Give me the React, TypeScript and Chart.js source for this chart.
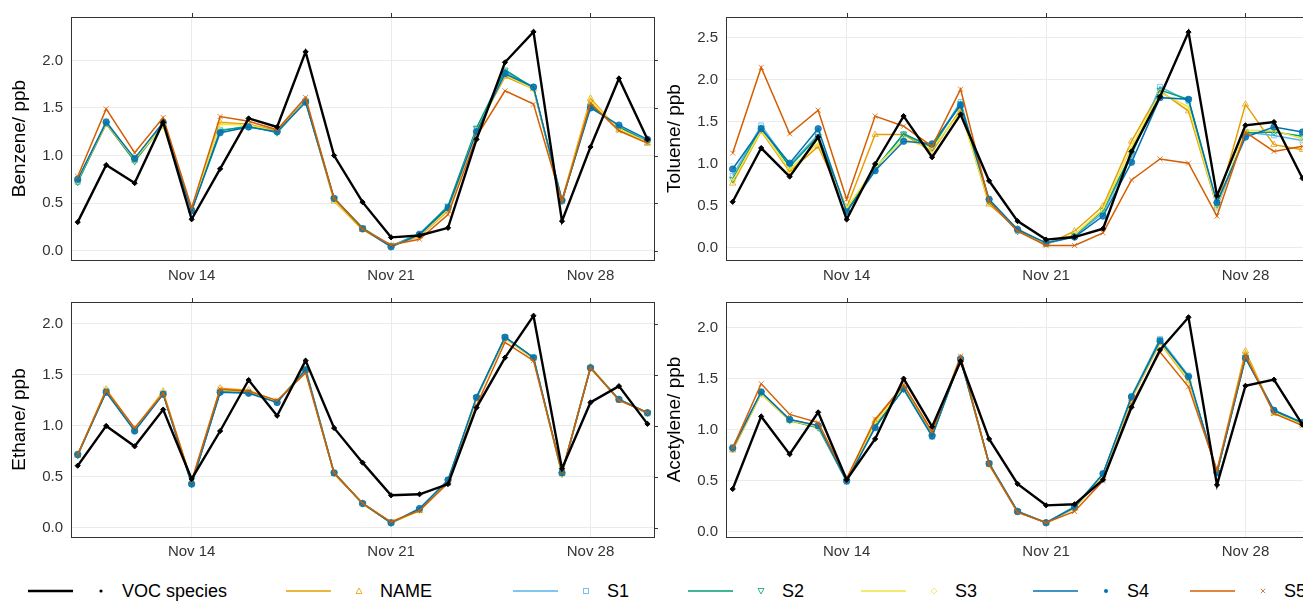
import React, { useEffect, useRef } from "react";
import { Chart, registerables } from "chart.js";

Chart.register(...registerables);

// Sampling days (November)
const days = [10, 11, 12, 13, 14, 15, 16, 17, 18, 19, 20, 21, 22, 23, 24, 25, 26, 27, 28, 29, 30];
const xTickDays = [14, 21, 28];
const xTickLabels = ["Nov 14", "Nov 21", "Nov 28"];

const seriesNames = ["VOC species", "NAME", "S1", "S2", "S3", "S4", "S5"];
const seriesColors = ["#000000", "#E69F00", "#56B4E9", "#009E73", "#F0E442", "#0072B2", "#D55E00"];

// Benzene
const benzeneVOC = [0.3, 0.9, 0.71, 1.35, 0.33, 0.86, 1.39, 1.3, 2.09, 1.0, 0.51, 0.14, 0.16, 0.24, 1.17, 1.98, 2.3, 0.31, 1.09, 1.81, 1.17];
const benzeneNAME = [0.73, 1.33, 0.95, 1.32, 0.43, 1.35, 1.33, 1.26, 1.58, 0.52, 0.22, 0.05, 0.15, 0.42, 1.27, 1.83, 1.7, 0.53, 1.6, 1.27, 1.13];
const benzeneS1 = [0.72, 1.36, 0.95, 1.33, 0.42, 1.27, 1.3, 1.25, 1.58, 0.54, 0.23, 0.05, 0.18, 0.46, 1.28, 1.88, 1.72, 0.52, 1.53, 1.3, 1.16];
const benzeneS2 = [0.72, 1.34, 0.94, 1.32, 0.43, 1.26, 1.31, 1.24, 1.57, 0.55, 0.24, 0.05, 0.17, 0.47, 1.29, 1.9, 1.71, 0.52, 1.52, 1.3, 1.14];
const benzeneS3 = [0.74, 1.34, 0.96, 1.31, 0.44, 1.33, 1.32, 1.25, 1.57, 0.53, 0.22, 0.05, 0.16, 0.43, 1.26, 1.85, 1.7, 0.53, 1.58, 1.28, 1.14];
const benzeneS4 = [0.75, 1.35, 0.97, 1.35, 0.42, 1.24, 1.3, 1.25, 1.56, 0.55, 0.23, 0.04, 0.17, 0.45, 1.25, 1.86, 1.72, 0.53, 1.5, 1.32, 1.17];
const benzeneS5 = [0.78, 1.49, 1.03, 1.4, 0.45, 1.41, 1.36, 1.27, 1.61, 0.55, 0.23, 0.06, 0.12, 0.38, 1.2, 1.68, 1.54, 0.52, 1.55, 1.26, 1.13];

// Toluene
const tolueneVOC = [0.55, 1.19, 0.85, 1.32, 0.34, 1.0, 1.57, 1.08, 1.59, 0.8, 0.32, 0.1, 0.13, 0.23, 1.15, 1.8, 2.57, 0.62, 1.46, 1.5, 0.83];
const tolueneNAME = [0.77, 1.39, 0.91, 1.21, 0.48, 1.35, 1.35, 1.15, 1.65, 0.52, 0.23, 0.04, 0.2, 0.5, 1.27, 1.87, 1.63, 0.5, 1.71, 1.23, 1.17];
const tolueneS1 = [0.86, 1.46, 0.99, 1.35, 0.46, 0.95, 1.35, 1.21, 1.74, 0.57, 0.21, 0.05, 0.14, 0.42, 1.1, 1.92, 1.75, 0.48, 1.38, 1.34, 1.28];
const tolueneS2 = [0.82, 1.43, 0.97, 1.33, 0.45, 0.94, 1.36, 1.2, 1.72, 0.56, 0.2, 0.06, 0.15, 0.45, 1.12, 1.88, 1.77, 0.52, 1.37, 1.38, 1.33];
const tolueneS3 = [0.8, 1.4, 0.93, 1.25, 0.47, 0.96, 1.3, 1.18, 1.62, 0.54, 0.22, 0.05, 0.16, 0.46, 1.2, 1.85, 1.68, 0.5, 1.4, 1.4, 1.3];
const tolueneS4 = [0.94, 1.42, 1.01, 1.42, 0.43, 0.92, 1.27, 1.24, 1.7, 0.58, 0.22, 0.06, 0.13, 0.38, 1.02, 1.79, 1.77, 0.54, 1.32, 1.44, 1.38];
const tolueneS5 = [1.13, 2.15, 1.36, 1.64, 0.58, 1.57, 1.45, 1.21, 1.89, 0.55, 0.2, 0.03, 0.03, 0.18, 0.81, 1.06, 1.01, 0.38, 1.38, 1.15, 1.21];

// Ethane
const ethaneVOC = [0.61, 1.0, 0.8, 1.16, 0.48, 0.95, 1.45, 1.1, 1.64, 0.98, 0.64, 0.32, 0.33, 0.43, 1.18, 1.67, 2.08, 0.58, 1.23, 1.39, 1.02];
const ethaneNAME = [0.71, 1.36, 0.97, 1.34, 0.45, 1.37, 1.35, 1.24, 1.54, 0.53, 0.24, 0.05, 0.17, 0.45, 1.27, 1.86, 1.66, 0.53, 1.58, 1.26, 1.13];
const ethaneS1 = [0.72, 1.34, 0.96, 1.32, 0.43, 1.34, 1.33, 1.23, 1.56, 0.54, 0.24, 0.05, 0.18, 0.47, 1.28, 1.87, 1.67, 0.54, 1.57, 1.26, 1.12];
const ethaneS2 = [0.71, 1.34, 0.96, 1.32, 0.43, 1.33, 1.33, 1.24, 1.55, 0.54, 0.24, 0.05, 0.18, 0.46, 1.28, 1.87, 1.67, 0.53, 1.57, 1.26, 1.13];
const ethaneS3 = [0.72, 1.35, 0.97, 1.33, 0.44, 1.35, 1.34, 1.24, 1.55, 0.54, 0.24, 0.05, 0.17, 0.46, 1.27, 1.86, 1.66, 0.53, 1.58, 1.26, 1.13];
const ethaneS4 = [0.72, 1.33, 0.95, 1.31, 0.43, 1.33, 1.32, 1.23, 1.55, 0.54, 0.24, 0.05, 0.19, 0.47, 1.28, 1.87, 1.67, 0.54, 1.57, 1.26, 1.13];
const ethaneS5 = [0.72, 1.35, 0.98, 1.32, 0.46, 1.36, 1.34, 1.25, 1.52, 0.54, 0.24, 0.06, 0.17, 0.44, 1.2, 1.82, 1.64, 0.55, 1.57, 1.25, 1.13];

// Acetylene
const acetyleneVOC = [0.42, 1.13, 0.76, 1.17, 0.51, 0.91, 1.5, 1.03, 1.67, 0.91, 0.47, 0.26, 0.27, 0.51, 1.22, 1.78, 2.1, 0.46, 1.43, 1.49, 1.05];
const acetyleneNAME = [0.8, 1.35, 1.09, 1.03, 0.52, 1.09, 1.43, 0.96, 1.7, 0.66, 0.2, 0.09, 0.23, 0.55, 1.3, 1.85, 1.48, 0.6, 1.77, 1.16, 1.05];
const acetyleneS1 = [0.83, 1.37, 1.1, 1.04, 0.49, 1.03, 1.4, 0.93, 1.7, 0.67, 0.2, 0.09, 0.25, 0.57, 1.33, 1.89, 1.53, 0.58, 1.71, 1.19, 1.07];
const acetyleneS2 = [0.81, 1.36, 1.09, 1.02, 0.5, 1.04, 1.4, 0.94, 1.69, 0.67, 0.2, 0.09, 0.24, 0.56, 1.32, 1.88, 1.51, 0.58, 1.71, 1.18, 1.06];
const acetyleneS3 = [0.81, 1.35, 1.09, 1.03, 0.51, 1.06, 1.41, 0.95, 1.69, 0.66, 0.2, 0.09, 0.23, 0.55, 1.31, 1.86, 1.49, 0.59, 1.74, 1.17, 1.05];
const acetyleneS4 = [0.82, 1.37, 1.1, 1.04, 0.5, 1.02, 1.4, 0.94, 1.69, 0.67, 0.2, 0.09, 0.24, 0.57, 1.32, 1.87, 1.52, 0.58, 1.7, 1.19, 1.07];
const acetyleneS5 = [0.82, 1.45, 1.15, 1.07, 0.52, 1.1, 1.44, 0.98, 1.72, 0.66, 0.19, 0.09, 0.2, 0.5, 1.25, 1.76, 1.42, 0.6, 1.73, 1.16, 1.04];

const ticksTo2 = [0, 0.5, 1.0, 1.5, 2.0];
const ticksTo25 = [0, 0.5, 1.0, 1.5, 2.0, 2.5];

const FONT = "'Liberation Sans', Arial, Helvetica, sans-serif";

type PanelSpec = {
  title: string;
  series: number[][];
  yMin: number;
  yMax: number;
  yTicks: number[];
  left: number;
  top: number;
  padTop: number;
  height: number;
  labelPad: number;
};

// Marker shapes per series: [pointStyle, rotation, filled, radius]
const markerStyles: [string, number, boolean, number][] = [
  ["rectRot", 0, true, 2.6],
  ["triangle", 0, false, 3.6],
  ["rect", 0, false, 3.4],
  ["triangle", 180, false, 3.6],
  ["rectRot", 0, false, 3.4],
  ["circle", 0, true, 3.2],
  ["crossRot", 0, false, 3.6],
];

function withAlpha(hex: string, a: number) {
  const r = parseInt(hex.slice(1, 3), 16);
  const g = parseInt(hex.slice(3, 5), 16);
  const b = parseInt(hex.slice(5, 7), 16);
  return `rgba(${r},${g},${b},${a})`;
}

// Panel frame plus outward ticks on the top and right edges
const framePlugin = {
  id: "panelFrame",
  afterDraw(chart: any) {
    const { ctx, chartArea } = chart;
    const xs = chart.scales.x;
    const ys = chart.scales.y;
    ctx.save();
    ctx.strokeStyle = "#333333";
    ctx.lineWidth = 1;
    ctx.strokeRect(
      Math.round(chartArea.left) + 0.5,
      Math.round(chartArea.top) + 0.5,
      Math.round(chartArea.right - chartArea.left),
      Math.round(chartArea.bottom - chartArea.top)
    );
    ctx.beginPath();
    xs.ticks.forEach((t: any) => {
      const px = Math.round(xs.getPixelForValue(t.value)) + 0.5;
      ctx.moveTo(px, chartArea.top - 4);
      ctx.lineTo(px, chartArea.top);
    });
    ys.ticks.forEach((t: any) => {
      const py = Math.round(ys.getPixelForValue(t.value)) + 0.5;
      ctx.moveTo(chartArea.right, py);
      ctx.lineTo(chartArea.right + 4, py);
    });
    ctx.stroke();
    ctx.restore();
  },
};

function Panel({ spec }: { spec: PanelSpec }) {
  const ref = useRef<HTMLCanvasElement>(null);
  useEffect(() => {
    if (!ref.current) return;
    const order = [1, 2, 3, 4, 5, 6, 0];
    const datasets = order.map((k) => {
      const [style, rot, filled, radius] = markerStyles[k];
      const color = seriesColors[k];
      const isVoc = k === 0;
      return {
        label: seriesNames[k],
        data: days.map((d, i) => ({ x: d, y: spec.series[k][i] })),
        borderColor: color,
        backgroundColor: color,
        borderWidth: isVoc ? 2.4 : 1.5,
        pointStyle: style,
        pointRotation: rot,
        pointRadius: radius,
        pointBorderWidth: 1,
        pointBorderColor: isVoc ? color : withAlpha(color, 0.75),
        pointBackgroundColor: filled ? (isVoc ? color : withAlpha(color, 0.85)) : "rgba(0,0,0,0)",
        tension: 0,
        order: isVoc ? 0 : 7 - k,
      };
    });
    const chart = new Chart(ref.current, {
      type: "line",
      data: { datasets } as any,
      options: {
        animation: false,
        responsive: false,
        devicePixelRatio: 1,
        layout: { padding: { top: spec.padTop, right: 14, left: 0, bottom: 0 } },
        plugins: { legend: { display: false }, tooltip: { enabled: false } },
        scales: {
          x: {
            type: "linear",
            min: 9.765,
            max: 30.23,
            afterBuildTicks: (s: any) => {
              s.ticks = xTickDays.map((v) => ({ value: v }));
            },
            afterFit: (s: any) => {
              s.height = 25;
            },
            ticks: {
              autoSkip: false,
              maxRotation: 0,
              padding: spec.labelPad,
              color: "#333333",
              font: { family: FONT, size: 15 },
              callback: (v: any) => xTickLabels[xTickDays.indexOf(Number(v))] ?? "",
            },
            grid: { color: "#ebebeb", lineWidth: 1, drawTicks: false },
            border: { display: false },
          },
          y: {
            type: "linear",
            min: spec.yMin,
            max: spec.yMax,
            afterBuildTicks: (s: any) => {
              s.ticks = spec.yTicks.map((v) => ({ value: v }));
            },
            afterFit: (s: any) => {
              s.width = 71;
            },
            ticks: {
              padding: 8,
              color: "#333333",
              font: { family: FONT, size: 15 },
              callback: (v: any) => Number(v).toFixed(1),
            },
            grid: { color: "#ebebeb", lineWidth: 1, drawTicks: false },
            border: { display: false },
            title: {
              display: true,
              text: spec.title,
              color: "#000000",
              font: { family: FONT, size: 19 },
              padding: { top: 8, bottom: 0 },
            },
          },
        },
      } as any,
      plugins: [framePlugin],
    });
    return () => chart.destroy();
  }, [spec]);
  return (
    <canvas
      ref={ref}
      width={668}
      height={spec.height}
      style={{ position: "absolute", left: spec.left, top: spec.top, width: 668, height: spec.height }}
    />
  );
}

const panels: PanelSpec[] = [
  {
    title: "Benzene/ ppb",
    series: [benzeneVOC, benzeneNAME, benzeneS1, benzeneS2, benzeneS3, benzeneS4, benzeneS5],
    yMin: -0.098,
    yMax: 2.456,
    yTicks: ticksTo2,
    left: 0,
    top: 0,
    padTop: 17,
    height: 285,
    labelPad: 7,
  },
  {
    title: "Toluene/ ppb",
    series: [tolueneVOC, tolueneNAME, tolueneS1, tolueneS2, tolueneS3, tolueneS4, tolueneS5],
    yMin: -0.143,
    yMax: 2.75,
    yTicks: ticksTo25,
    left: 655,
    top: 0,
    padTop: 17,
    height: 285,
    labelPad: 7,
  },
  {
    title: "Ethane/ ppb",
    series: [ethaneVOC, ethaneNAME, ethaneS1, ethaneS2, ethaneS3, ethaneS4, ethaneS5],
    yMin: -0.089,
    yMax: 2.215,
    yTicks: ticksTo2,
    left: 0,
    top: 285,
    padTop: 8,
    height: 277,
    labelPad: 6,
  },
  {
    title: "Acetylene/ ppb",
    series: [acetyleneVOC, acetyleneNAME, acetyleneS1, acetyleneS2, acetyleneS3, acetyleneS4, acetyleneS5],
    yMin: -0.05,
    yMax: 2.25,
    yTicks: ticksTo2,
    left: 655,
    top: 285,
    padTop: 8,
    height: 277,
    labelPad: 6,
  },
];

// Legend entry start positions along the bottom row
const legendX = [28, 286, 513, 688, 861, 1033, 1190];

function LegendMarker({ k }: { k: number }) {
  const c = seriesColors[k];
  const s = withAlpha(c, 0.8);
  switch (k) {
    case 0:
      return <circle cx={6} cy={6} r={1.6} fill={c} />;
    case 1:
      return <polygon points="6,3 9,8.5 3,8.5" fill="none" stroke={s} strokeWidth={1} />;
    case 2:
      return <rect x={3.5} y={3.5} width={5} height={5} fill="none" stroke={s} strokeWidth={1} />;
    case 3:
      return <polygon points="3,3.5 9,3.5 6,9" fill="none" stroke={s} strokeWidth={1} />;
    case 4:
      return <polygon points="6,3 9,6 6,9 3,6" fill="none" stroke={s} strokeWidth={1} />;
    case 5:
      return <circle cx={6} cy={6} r={2} fill={c} />;
    default:
      return (
        <path d="M3.8,3.8 L8.2,8.2 M8.2,3.8 L3.8,8.2" stroke={s} strokeWidth={1} fill="none" />
      );
  }
}

function Legend() {
  return (
    <div style={{ position: "absolute", left: 0, top: 578, width: 1303, height: 26 }}>
      {seriesNames.map((name, k) => (
        <div key={name} style={{ position: "absolute", left: legendX[k], top: 0, height: 26 }}>
          <svg width={46} height={26} style={{ position: "absolute", left: 0, top: 0 }}>
            <line
              x1={0}
              x2={45}
              y1={13}
              y2={13}
              stroke={seriesColors[k]}
              strokeWidth={k === 0 ? 2.6 : 1.6}
            />
          </svg>
          <svg width={12} height={12} style={{ position: "absolute", left: 67, top: 7 }}>
            <LegendMarker k={k} />
          </svg>
          <span
            style={{
              position: "absolute",
              left: 94,
              top: 2,
              whiteSpace: "nowrap",
              fontFamily: FONT,
              fontSize: 18,
              lineHeight: "22px",
              color: "#000",
            }}
          >
            {name}
          </span>
        </div>
      ))}
    </div>
  );
}

export default function App() {
  return (
    <div
      style={{
        position: "fixed",
        left: 0,
        top: 0,
        width: 1303,
        height: 604,
        overflow: "hidden",
        background: "#ffffff",
      }}
    >
      {panels.map((p) => (
        <Panel key={p.title} spec={p} />
      ))}
      <Legend />
    </div>
  );
}
